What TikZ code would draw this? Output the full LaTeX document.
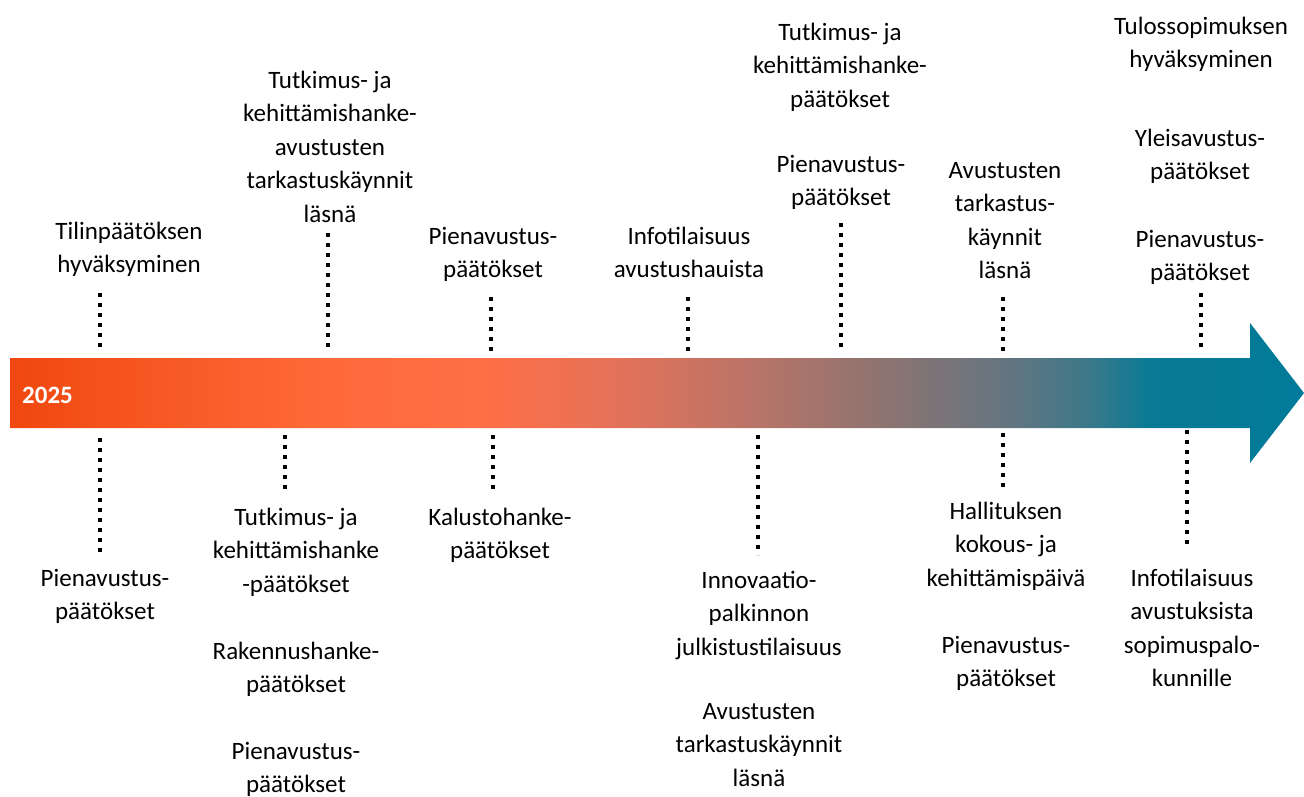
\documentclass[tikz,border=0pt]{standalone}
\usepackage{fontspec}
\setmainfont{Carlito}
\usetikzlibrary{positioning}

\definecolor{tlA}{HTML}{F0480F}
\definecolor{tlB}{HTML}{FF6A3A}
\definecolor{tlC}{HTML}{FF6E45}
\definecolor{tlD}{HTML}{E3725A}
\definecolor{tlE}{HTML}{B67468}
\definecolor{tlF}{HTML}{8E7470}
\definecolor{tlG}{HTML}{667580}
\definecolor{tlH}{HTML}{407888}
\definecolor{tlI}{HTML}{0A7A95}
\definecolor{tlJ}{HTML}{007B99}
\pgfdeclarehorizontalshading{timeline}{100bp}{color(0bp)=(tlA); color(25bp)=(tlA);
  color(37.4bp)=(tlB); color(43.2bp)=(tlC); color(48.6bp)=(tlD); color(54bp)=(tlE);
  color(58.6bp)=(tlF); color(63.3bp)=(tlG); color(66.4bp)=(tlH); color(69bp)=(tlI);
  color(75bp)=(tlJ); color(100bp)=(tlJ)}

\tikzstyle{event} = [align=center, anchor=north, inner sep=0pt, font=\fontsize{25}{33.4}\selectfont]
\tikzstyle{dotline} = [line width=4pt, dash pattern=on 4pt off 6pt]

\begin{document}
\begin{tikzpicture}[x=1pt, y=-1pt]
    \useasboundingbox (0,0) rectangle (1304,796);

    % timeline arrow
    \shade[shading=timeline] (10,358) -- (1250,358) -- (1250,323) -- (1304,393)
        -- (1250,463) -- (1250,428) -- (10,428) -- cycle;
    \node (year) [anchor=base west, inner sep=0pt, text=white, font=\fontsize{25}{30}\selectfont\bfseries] at (22,403) {2025};

    % above the arrow
    \node (tilin) [event] at (129,222) {Tilinpäätöksen\\hyväksyminen};
    \node (tkavust) [event] at (330,71) {Tutkimus- ja\\kehittämishanke-\\avustusten\\tarkastuskäynnit\\läsnä};
    \node (pien1) [event] at (493,227) {Pienavustus-\\päätökset};
    \node (info1) [event] at (689,227) {Infotilaisuus\\avustushauista};
    \node (tkpaat) [event] at (840,23) {Tutkimus- ja\\kehittämishanke-\\päätökset};
    \node (pien2) [event] at (841,155) {Pienavustus-\\päätökset};
    \node (avtark) [event] at (1005,162) {Avustusten\\tarkastus-\\käynnit\\läsnä};
    \node (tulos) [event] at (1201,17) {Tulossopimuksen\\hyväksyminen};
    \node (yleis) [event] at (1200,129) {Yleisavustus-\\päätökset};
    \node (pien3) [event] at (1200,230) {Pienavustus-\\päätökset};

    % below the arrow
    \node (pien4) [event] at (105,569) {Pienavustus-\\päätökset};
    \node (tkpaat2) [event] at (296,508) {Tutkimus- ja\\kehittämishanke\\-päätökset};
    \node (rakennus) [event] at (296,642) {Rakennushanke-\\päätökset};
    \node (pien5) [event] at (296,742) {Pienavustus-\\päätökset};
    \node (kalusto) [event] at (500,508) {Kalustohanke-\\päätökset};
    \node (innov) [event] at (759,571) {Innovaatio-\\palkinnon\\julkistustilaisuus};
    \node (avtark2) [event] at (759,703) {Avustusten\\tarkastuskäynnit\\läsnä};
    \node (hallitus) [event] at (1006,502) {Hallituksen\\kokous- ja\\kehittämispäivä};
    \node (pien6) [event] at (1006,636) {Pienavustus-\\päätökset};
    \node (info2) [event] at (1192,569) {Infotilaisuus\\avustuksista\\sopimuspalo-\\kunnille};

    % dotted ticks
    \foreach \n/\x/\a/\b in {ta/100/293/347, tb/328/233/352, tc/491/297/352, td/688/297/352,
        te/841/223/348, tf/1003/297/352, tg/1201/293/348,
        ba/100/438/557, bb/285/435/492, bc/493/435/491, bd/758/435/555,
        be/1003/433/490, bf/1187/430/548}
    {
        \coordinate (\n-top) at (\x,\a);
        \coordinate (\n-bot) at (\x,\b);
        \draw [dotline] (\n-top) -- (\n-bot);
    }
\end{tikzpicture}
\end{document}
